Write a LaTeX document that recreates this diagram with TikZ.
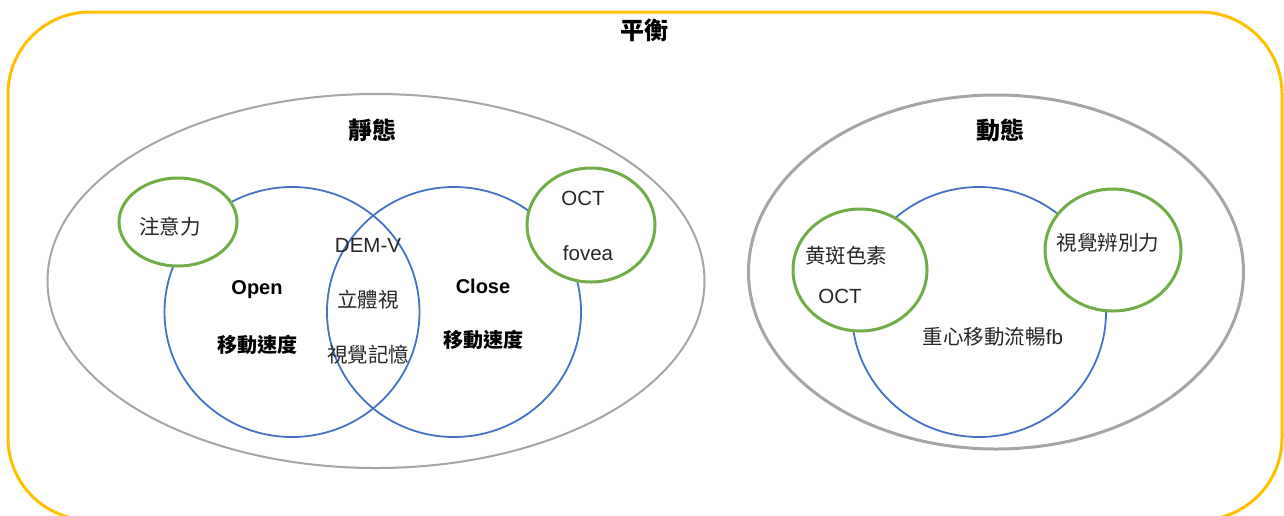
\documentclass[tikz,border=0pt]{standalone}
\usepackage{fontspec}
\setmainfont{Liberation Sans}
\newfontfamily\cjk{Noto Sans CJK TC}
\usetikzlibrary{shapes.geometric}
\definecolor{frameyellow}{HTML}{FFC000}
\definecolor{ringgray}{HTML}{A5A5A5}
\definecolor{ringblue}{HTML}{4472C4}
\definecolor{ringgreen}{HTML}{70AD47}
\definecolor{txt}{HTML}{262626}
\begin{document}
\begin{tikzpicture}[x=1pt,y=-1pt,
  grayring/.style={ellipse,draw=ringgray,line width=2pt,inner sep=0pt},
  bluering/.style={ellipse,draw=ringblue,line width=1.8pt,inner sep=0pt},
  greenring/.style={ellipse,draw=ringgreen,line width=3pt,fill=white,inner sep=0pt},
  lbl/.style={inner sep=0pt,text=txt,font=\fontsize{20.5}{24}\selectfont},
  blbl/.style={inner sep=0pt,text=black,font=\fontsize{20}{24}\selectfont\bfseries},
  ttl/.style={inner sep=0pt,text=black,font=\fontsize{24}{28}\selectfont\bfseries}]
\useasboundingbox (0,0) rectangle (1284,515);
\draw[frameyellow,line width=3pt,rounded corners=82pt] (8,12) rectangle (1282,520);
\node[ttl] (tbal) at (644,30) {\cjk 平衡};

% static
\node[grayring,minimum width=657pt,minimum height=374pt] (stat) at (376,281) {};
\node[ttl] (tstat) at (372,130) {\cjk 靜態};
\node[bluering,minimum width=255pt,minimum height=250pt] (open) at (292,312) {};
\node[bluering,minimum width=254pt,minimum height=250pt] (close) at (454,312) {};
\node[greenring,minimum width=118pt,minimum height=88pt] (attn) at (178,222) {};
\node[greenring,minimum width=128pt,minimum height=114pt] (oct) at (591,225) {};

\node[lbl] (tattn) at (170,227) {\cjk 注意力};
\node[lbl] (tdem) at (368,245) {DEM-V};
\node[lbl] (tstereo) at (368,300) {\cjk 立體視};
\node[lbl] (tmem) at (368,355) {\cjk 視覺記憶};
\node[blbl] (topen) at (257,290) {Open};
\node[blbl] (tospd) at (257,345) {\cjk\bfseries 移動速度};
\node[blbl] (tclose) at (483,286) {Close};
\node[blbl] (tcspd) at (483,340) {\cjk\bfseries 移動速度};
\node[lbl] (toct) at (583,198) {OCT};
\node[lbl] (tfovea) at (588,253) {fovea};

% dynamic
\node[grayring,line width=3pt,minimum width=495pt,minimum height=354pt] (dyn) at (996,272) {};
\node[ttl] (tdyn) at (1000,130) {\cjk 動態};
\node[bluering,minimum width=254pt,minimum height=250pt] (cog) at (979,312) {};
\node[greenring,minimum width=134pt,minimum height=122pt] (mac) at (860,270) {};
\node[greenring,minimum width=136pt,minimum height=122pt] (disc) at (1113,250) {};

\node[lbl] (tmac) at (846,256) {\cjk 黄斑色素};
\node[lbl] (tmoct) at (840,296) {OCT};
\node[lbl] (tdisc) at (1108,243) {\cjk 視覺辨別力};
\node[lbl] (tcog) at (993,337) {{\cjk 重心移動流暢}fb};
\end{tikzpicture}
\end{document}
